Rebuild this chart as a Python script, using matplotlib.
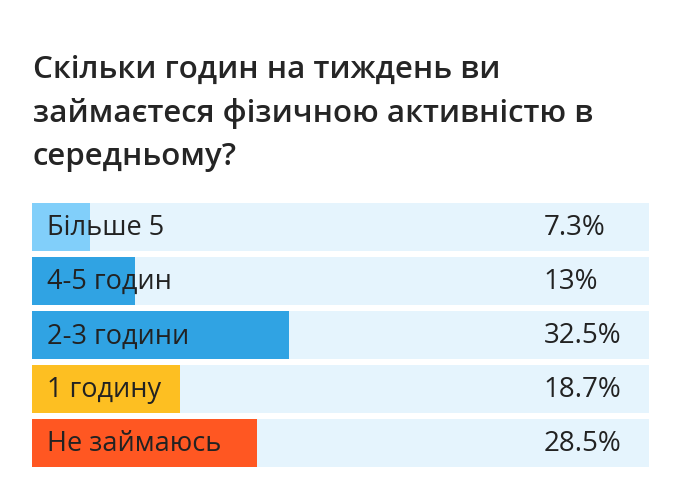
import matplotlib
matplotlib.use("Agg")
import matplotlib.pyplot as plt

title = "Скільки годин на тиждень ви\nзаймаєтеся фізичною активністю в\nсередньому?"
categories = ["Більше 5", "4-5 годин", "2-3 години", "1 годину", "Не займаюсь"]
values = [7.3, 13, 32.5, 18.7, 28.5]
value_labels = ["7.3%", "13%", "32.5%", "18.7%", "28.5%"]
colors = ["#81cffa", "#30a3e3", "#30a3e3", "#fdbf22", "#ff5722"]
track_max = 78.0

plt.rcParams['font.family'] = ['Open Sans', 'DejaVu Sans']
W, H = 696, 494
fig = plt.figure(figsize=(W / 100, H / 100), dpi=100)
fig.patch.set_facecolor("white")

ax = fig.add_axes([32 / W, (H - 467) / H, 617 / W, 264 / H])
n = len(categories)
h = 0.887
ys = list(range(n))
ax.barh(ys, [track_max] * n, height=h, color="#e5f4fd", edgecolor="none")
ax.barh(ys, values, height=h, color=colors, edgecolor="none")
ax.set_xlim(0, track_max)
ax.set_ylim(n - 1 + h / 2, -h / 2)
ax.axis("off")

txt = "#222222"
for y, cat, lab in zip(ys, categories, value_labels):
    ax.annotate(cat, xy=(0, y), xytext=(11, -1), textcoords="offset points",
                ha="left", va="center", fontsize=19.5, color=txt)
    ax.annotate(lab, xy=(track_max, y), xytext=(-76, -1), textcoords="offset points",
                ha="left", va="center", fontsize=20, color=txt)

fig.text(33 / W, 1 - 55 / H, title, ha="left", va="top", fontsize=22.5,
         fontweight="semibold", color="#252525", linespacing=1.56)

fig.savefig("out.png", dpi=100, facecolor="white")
